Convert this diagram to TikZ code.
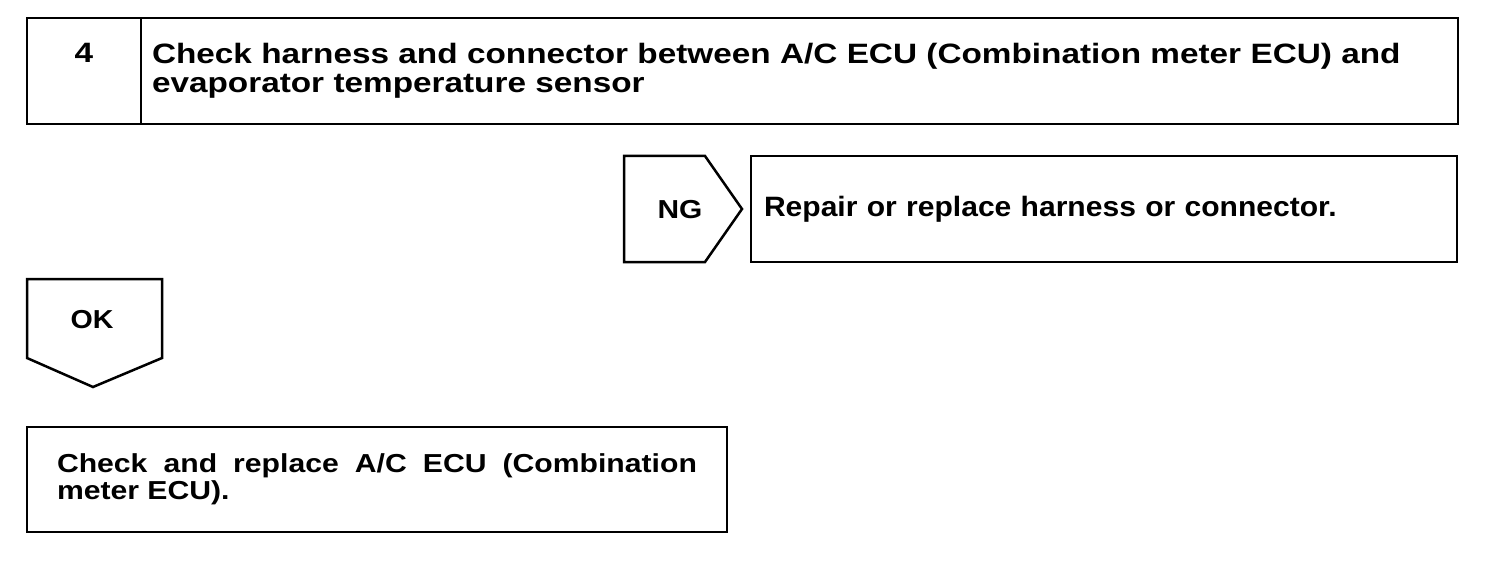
\documentclass[tikz,border=0pt]{standalone}
\usepackage{fontspec}
\setmainfont{Liberation Sans}
\usetikzlibrary{positioning}

\begin{document}
\begin{tikzpicture}[
    x=1pt, y=-1pt,
    box/.style = {rectangle, draw, line width=2.5pt, anchor=north west, inner sep=0pt, outer sep=0pt},
    big/.style = {font=\bfseries\fontsize{28}{29}\selectfont\addfontfeature{FakeStretch=#1}},
    big/.default = 1.19,
    small/.style = {font=\bfseries\fontsize{26}{27}\selectfont\addfontfeature{FakeStretch=#1}},
    small/.default = 1.16,
    tag/.style = {draw, line width=2.5pt, line join=miter}
]
    \useasboundingbox (0,0) rectangle (1504,564);

    % Step header
    \node[box, big, minimum width=114pt, minimum height=106pt, text height=20pt, text depth=36pt] (num) at (27,18) {4};
    \node[box, big, minimum width=1317pt, minimum height=106pt, text width=1295pt, inner xsep=11pt, align=left] (title) at (num.north east)
        {Check harness and connector between A/C ECU (Combination meter ECU) and\\evaporator temperature sensor};

    % NG branch
    \node[small=1.15] (ng) at (680,210) {NG};
    \draw[tag] (624,156) -- (705,156) -- (742,209) -- (705,262) -- (624,262) -- cycle;
    \node[box, big=1.073, minimum width=706pt, minimum height=106pt, text width=680pt, inner xsep=13pt, align=left] (repair) at (751,156)
        {Repair or replace harness or connector.};

    % OK branch
    \node[small=1.1] (ok) at (92,320) {OK};
    \draw[tag] (27,279) -- (162,279) -- (162,358) -- (93,387) -- (27,358) -- cycle;
    \node[box, small, minimum width=700pt, minimum height=105pt, text width=640pt, inner xsep=30pt, align=justify] (ecu) at (27,427)
        {Check and replace A/C ECU (Combination\linebreak meter ECU).};

\end{tikzpicture}
\end{document}
